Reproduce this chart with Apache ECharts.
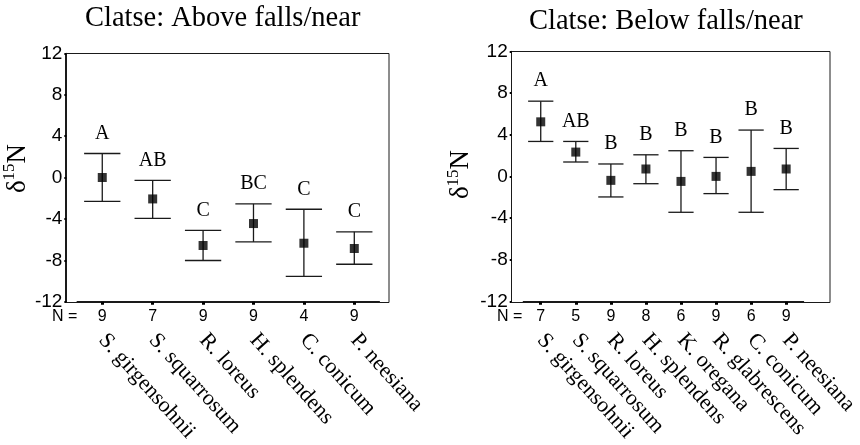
<!DOCTYPE html>
<html><head><meta charset="utf-8">
<script src="https://cdn.jsdelivr.net/npm/echarts@6/dist/echarts.min.js"></script>
<style>html,body{margin:0;padding:0;background:#fff}#c{width:860px;height:445px}</style>
</head><body><div id="c"></div>
<script>
// ---- data ----
const leftTitle = 'Clatse: Above falls/near';
const leftSpecies = ['S. girgensohnii','S. squarrosum','R. loreus','H. splendens','C. conicum','P. neesiana'];
const leftN = ['9','7','9','9','4','9'];
const leftMean = [0.0, -2.07, -6.57, -4.45, -6.35, -6.86];
const leftUpper = [2.32, -0.28, -5.1, -2.55, -3.07, -5.25];
const leftLower = [-2.3, -3.94, -8.02, -6.22, -9.56, -8.38];
const leftLetters = ['A','AB','C','BC','C','C'];

const rightTitle = 'Clatse: Below falls/near';
const rightSpecies = ['S. girgensohnii','S. squarrosum','R. loreus','H. splendens','K. oregana','R. glabrescens','C. conicum','P. neesiana'];
const rightN = ['7','5','9','8','6','9','6','9'];
const rightMean = [5.24, 2.34, -0.37, 0.72, -0.47, 0.01, 0.49, 0.72];
const rightUpper = [7.22, 3.36, 1.2, 2.08, 2.47, 1.83, 4.45, 2.69];
const rightLower = [3.36, 1.39, -1.96, -0.69, -3.43, -1.64, -3.43, -1.26];
const rightLetters = ['A','AB','B','B','B','B','B','B'];

const yTicks = { min: -12, max: 12, interval: 4 };

// ---- helpers ----
const SERIF = '"Liberation Serif","Times New Roman",serif';
const SANS = '"Liberation Sans",Arial,sans-serif';
const INK = '#1a1a1a';

function errRender(letters) {
  return function (params, api) {
    const i = api.value(0);
    const pHi = api.coord([i, api.value(1)]);
    const pLo = api.coord([i, api.value(2)]);
    const half = api.size([1, 0])[0] * 0.36;
    const ls = { stroke: INK, lineWidth: 1.3 };
    return {
      type: 'group',
      children: [
        { type: 'line', shape: { x1: pHi[0], y1: pHi[1], x2: pLo[0], y2: pLo[1] }, style: ls },
        { type: 'line', shape: { x1: pHi[0] - half, y1: pHi[1], x2: pHi[0] + half, y2: pHi[1] }, style: ls },
        { type: 'line', shape: { x1: pLo[0] - half, y1: pLo[1], x2: pLo[0] + half, y2: pLo[1] }, style: ls },
        { type: 'text', style: { text: letters[params.dataIndex], x: pHi[0], y: pHi[1] - 20,
            align: 'center', verticalAlign: 'middle', fill: '#000',
            fontFamily: SERIF, fontSize: 20 } }
      ]
    };
  };
}

function xAxesFor(gridIndex, species, ns) {
  return [
    { type: 'category', gridIndex, data: species, position: 'bottom',
      axisLine: { show: true, onZero: false, lineStyle: { color: INK, width: 1 } },
      axisTick: { show: true, alignWithLabel: true, length: 3, lineStyle: { color: '#000', width: 3 } },
      axisLabel: { interval: 0, margin: 7, color: '#000', fontFamily: SANS, fontSize: 16,
        formatter: (v, i) => ns[i] },
      splitLine: { show: false } },
    { type: 'category', gridIndex, data: species, position: 'bottom', offset: 31,
      axisLine: { show: false, onZero: false }, axisTick: { show: false },
      axisLabel: { interval: 0, rotate: -48, margin: 4, color: '#000', fontFamily: SERIF, fontSize: 22 },
      splitLine: { show: false } }
  ];
}

function yAxisFor(gridIndex, offset, gap, shift) {
  return { type: 'value', gridIndex, min: yTicks.min, max: yTicks.max, interval: yTicks.interval,
    offset,
    axisLine: { show: true, lineStyle: { color: INK, width: 1 } },
    axisTick: { show: true, length: 2, lineStyle: { color: '#000', width: 2 } },
    axisLabel: { color: '#000', fontFamily: SANS, fontSize: 19, margin: 4 },
    splitLine: { show: false },
    name: '{d|δ}{s|15}{d|N}', nameLocation: 'middle', nameRotate: 90, nameGap: gap,
    nameTextStyle: { padding: [0, 0, 0, shift], rich: {
      d: { fontFamily: SERIF, fontSize: 27, color: '#000', verticalAlign: 'bottom', lineHeight: 30 },
      s: { fontFamily: SERIF, fontSize: 17, color: '#000', verticalAlign: 'top', lineHeight: 17 }
    } } };
}

const chart = echarts.init(document.getElementById('c'), null, { renderer: 'canvas' });
chart.setOption({
  animation: false,
  backgroundColor: '#fff',
  title: [
    { text: leftTitle, left: 85, top: 4, padding: 0,
      textStyle: { fontFamily: SERIF, fontSize: 28.5, fontWeight: 'normal', color: '#000' } },
    { text: rightTitle, left: 529, top: 7, padding: 0,
      textStyle: { fontFamily: SERIF, fontSize: 28.5, fontWeight: 'normal', color: '#000' } }
  ],
  grid: [
    { left: 76.4, top: 53.3, width: 303.1, height: 249 },
    { left: 523.2, top: 51.3, width: 295.5, height: 251 }
  ],
  xAxis: [...xAxesFor(0, leftSpecies, leftN), ...xAxesFor(1, rightSpecies, rightN)],
  yAxis: [yAxisFor(0, 10.7, 33, 18), yAxisFor(1, 11.5, 37, 4)],
  graphic: [
    { type: 'rect', shape: { x: 65.5, y: 53.5, width: 323.5, height: 249 },
      style: { fill: 'none', stroke: INK, lineWidth: 1 }, silent: true },
    { type: 'rect', shape: { x: 511.5, y: 51.5, width: 318.5, height: 251 },
      style: { fill: 'none', stroke: INK, lineWidth: 1 }, silent: true },
    { type: 'text', left: 52, top: 309, style: { text: 'N =', fill: '#000', fontFamily: SANS, fontSize: 16 } },
    { type: 'text', left: 497, top: 309, style: { text: 'N =', fill: '#000', fontFamily: SANS, fontSize: 16 } }
  ],
  series: [
    { type: 'custom', xAxisIndex: 0, yAxisIndex: 0, renderItem: errRender(leftLetters),
      encode: { x: 0, y: [1, 2] },
      data: leftSpecies.map((s, i) => [i, leftUpper[i], leftLower[i]]) },
    { type: 'scatter', xAxisIndex: 0, yAxisIndex: 0, symbol: 'rect', symbolSize: 9,
      itemStyle: { color: '#000' }, data: leftMean.map((v, i) => [i, v]) },
    { type: 'custom', xAxisIndex: 2, yAxisIndex: 1, renderItem: errRender(rightLetters),
      encode: { x: 0, y: [1, 2] },
      data: rightSpecies.map((s, i) => [i, rightUpper[i], rightLower[i]]) },
    { type: 'scatter', xAxisIndex: 2, yAxisIndex: 1, symbol: 'rect', symbolSize: 9,
      itemStyle: { color: '#000' }, data: rightMean.map((v, i) => [i, v]) }
  ]
});
</script></body></html>
